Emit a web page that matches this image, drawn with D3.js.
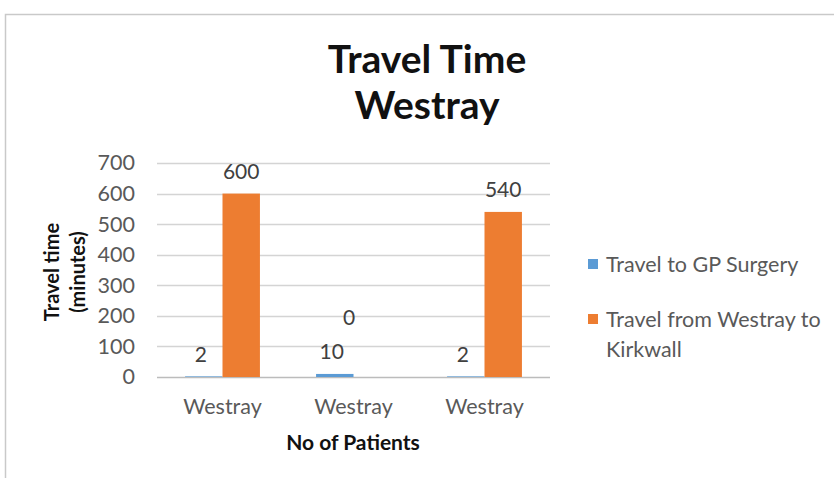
<!DOCTYPE html>
<html><head><meta charset="utf-8">
<script src="https://cdn.jsdelivr.net/npm/d3@7"></script>
<style>body{margin:0;background:#fff}svg{display:block}text{font-family:Lato,"Open Sans",sans-serif}</style>
</head><body><svg id="c" width="834" height="478"></svg>
<script>
const categories = ["Westray","Westray","Westray"];
const seriesNames = ["Travel to GP Surgery","Travel from Westray to Kirkwall"];
const gpValues = [2,10,2];
const kirkwallValues = [600,0,540];
const yTicks = [0,100,200,300,400,500,600,700];
const colors = ["#5B9BD5","#ED7D31"];

const svg = d3.select("#c");
// outer border
svg.append("rect").attr("x",5.5).attr("y",14.5).attr("width",840).attr("height",480)
  .attr("fill","none").attr("stroke","#c9c9c9").attr("stroke-width",1.5);

const L=157,R=550,T=163,B=377;
const y = d3.scaleLinear().domain([0,700]).range([B,T]);
const x0 = d3.scaleBand().domain(d3.range(categories.length)).range([L,R]).padding(0);
const x1 = d3.scaleBand().domain([0,1]).range([0,x0.bandwidth()]).paddingInner(0).paddingOuter(0.75);

// grid
svg.append("g").selectAll("line").data(yTicks).join("line")
  .attr("x1",L).attr("x2",R).attr("y1",d=>Math.round(y(d))+0.5).attr("y2",d=>Math.round(y(d))+0.5)
  .attr("stroke",d=>d===0?"#bcbcbc":"#d4d4d4").attr("stroke-width",1.3);

// y axis tick labels
const ya = d3.axisLeft(y).tickValues(yTicks).tickSize(0).tickPadding(0);
const yg = svg.append("g").attr("transform",`translate(${L-22},0)`).call(ya);
yg.select(".domain").remove();
yg.selectAll("text").attr("font-size",21.5).attr("fill","#595959").attr("font-family","Lato");

// x axis labels
const xa = d3.axisBottom(x0).tickFormat(i=>categories[i]).tickSize(0).tickPadding(22);
const xg = svg.append("g").attr("transform",`translate(0,${B})`).call(xa);
xg.select(".domain").remove();
xg.selectAll("text").attr("font-size",21.5).attr("fill","#595959").attr("font-family","Lato");

const data = categories.map((c,i)=>({i,vals:[gpValues[i],kirkwallValues[i]]}));
const g = svg.append("g").selectAll("g").data(data).join("g")
  .attr("transform",d=>`translate(${x0(d.i)},0)`);
g.selectAll("rect").data(d=>d.vals.map((v,s)=>({v,s}))).join("rect")
  .attr("x",d=>x1(d.s)).attr("width",x1.bandwidth())
  .attr("y",d=>y(d.v)).attr("height",d=>B-y(d.v))
  .attr("fill",d=>colors[d.s]);

// data labels
g.selectAll("text.lbl").data(d=>d.vals.map((v,s)=>({v,s,other:d.vals[1-s]}))).join("text")
  .attr("class","lbl")
  .attr("x",d=>{let cx=x1(d.s)+x1.bandwidth()/2; if(d.v===0&&d.other>0) cx-=23; return cx-(d.s===0?3:0);})
  .attr("y",d=>{let yy=y(d.v)-22; if(d.v===0&&d.other>0) yy-=37; return yy;})
  .attr("dy","0.35em").attr("text-anchor","middle")
  .attr("font-size",21).attr("fill","#404040").text(d=>d.v);

// title
svg.append("text").attr("x",427).attr("y",73).attr("text-anchor","middle")
  .attr("font-size",39).attr("font-weight","bold").attr("fill","#111").text("Travel Time");
svg.append("text").attr("x",427).attr("y",119).attr("text-anchor","middle")
  .attr("font-size",39).attr("font-weight","bold").attr("fill","#111").text("Westray");

// axis titles
const yt = svg.append("text").attr("transform",`translate(59,${272}) rotate(-90)`)
  .attr("text-anchor","middle").attr("font-size",20).attr("font-weight","bold").attr("fill","#111");
yt.append("tspan").attr("x",0).attr("dy",0).text("Travel time");
yt.append("tspan").attr("x",0).attr("dy",26).text("(minutes)");
svg.append("text").attr("x",353).attr("y",450).attr("text-anchor","middle")
  .attr("font-size",21).attr("font-weight","bold").attr("fill","#111").text("No of Patients");

// legend
const leg = svg.append("g");
const legLines = [[seriesNames[0]],["Travel from Westray to","Kirkwall"]];
legLines.forEach((lines,k)=>{
  const cy = 264 + k*55;
  leg.append("rect").attr("x",588).attr("y",cy-5).attr("width",10).attr("height",10).attr("fill",colors[k]);
  const t = leg.append("text").attr("x",606).attr("y",cy).attr("dy","0.35em")
    .attr("font-size",21.5).attr("fill","#595959");
  lines.forEach((ln,j)=>t.append("tspan").attr("x",606).attr("dy",j===0?"0.35em":"1.4em").text(ln));
});
</script></body></html>
